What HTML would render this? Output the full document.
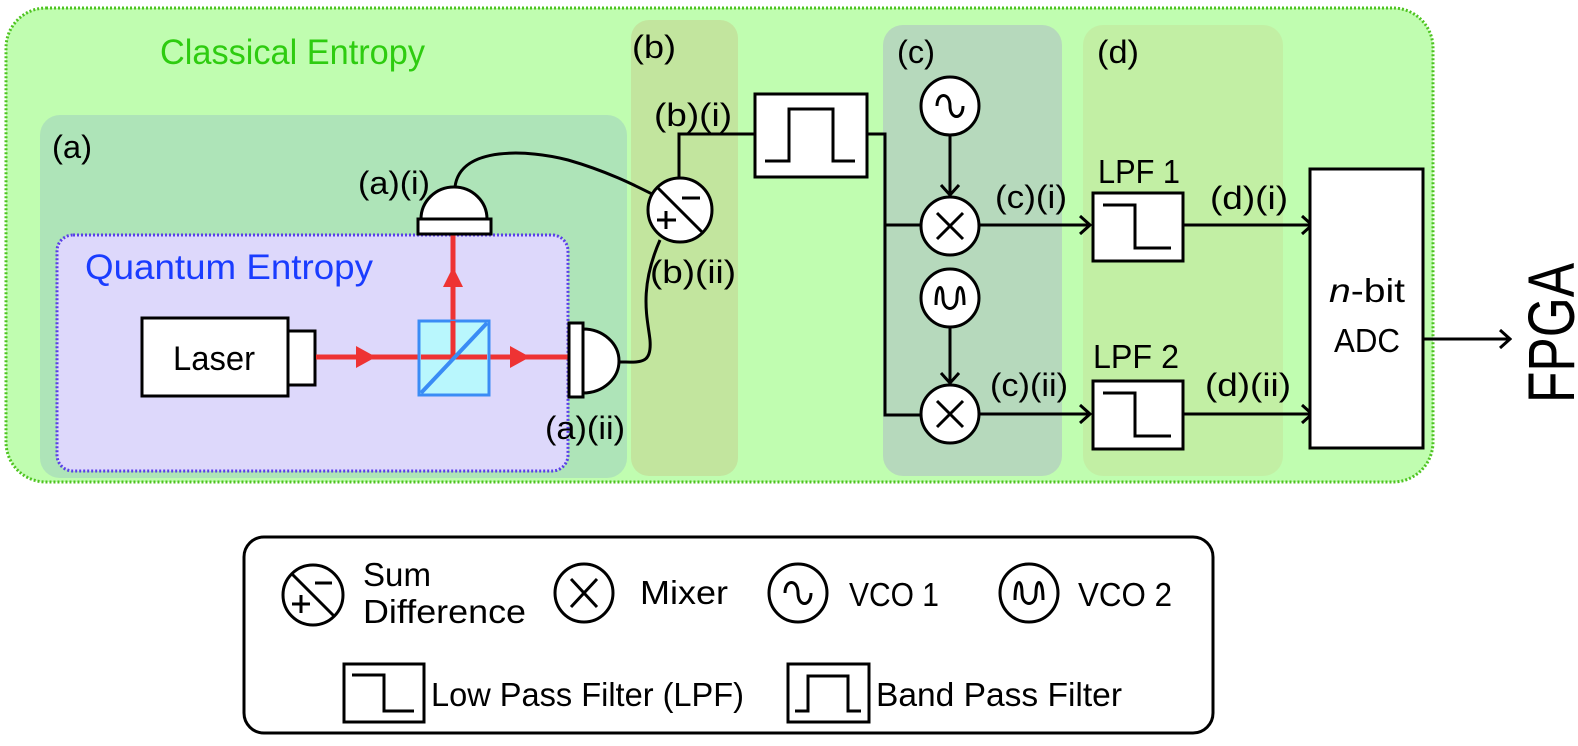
<!DOCTYPE html>
<html><head><meta charset="utf-8"><style>
html,body{margin:0;padding:0;background:#fff;}
svg{display:block;}
text{font-family:"Liberation Sans",sans-serif;}
</style></head><body>
<svg width="1578" height="746" viewBox="0 0 1578 746" xmlns="http://www.w3.org/2000/svg">
<defs>
<marker id="oa" markerWidth="14" markerHeight="20" refX="12" refY="10" orient="auto" markerUnits="userSpaceOnUse">
<path d="M2,1 L12,10 L2,19" fill="none" stroke="#000" stroke-width="3"/>
</marker>
</defs>
<rect x="6" y="8" width="1427" height="474" rx="40" fill="#c0fdb0" stroke="#4ec320" stroke-width="3" stroke-dasharray="2,2"/>
<text x="160" y="64" font-size="35" fill="#2ecc10" textLength="265" lengthAdjust="spacingAndGlyphs">Classical Entropy</text>
<rect x="40" y="115" width="587" height="363" rx="20" fill="#aee4b8"/>
<rect x="631" y="20" width="107" height="456" rx="18" fill="#c2e59e"/>
<rect x="883" y="25" width="179" height="451" rx="20" fill="#b6d9bc"/>
<rect x="1083" y="25" width="200" height="451" rx="20" fill="#c2efa4"/>
<text x="52" y="158" font-size="32" textLength="40" lengthAdjust="spacingAndGlyphs">(a)</text>
<text x="632" y="58" font-size="32" textLength="44" lengthAdjust="spacingAndGlyphs">(b)</text>
<text x="897" y="63" font-size="32" textLength="38" lengthAdjust="spacingAndGlyphs">(c)</text>
<text x="1097" y="63" font-size="32" textLength="42" lengthAdjust="spacingAndGlyphs">(d)</text>
<rect x="57" y="235" width="511" height="236" rx="16" fill="#ddd8fb" stroke="#5a3fe8" stroke-width="3" stroke-dasharray="2,2"/>
<text x="85" y="279" font-size="35" fill="#1a3cff" textLength="288" lengthAdjust="spacingAndGlyphs">Quantum Entropy</text>
<rect x="142" y="318" width="146" height="78" fill="#fff" stroke="#000" stroke-width="3"/>
<rect x="288" y="331" width="27" height="54" fill="#fff" stroke="#000" stroke-width="3"/>
<text x="214" y="370" font-size="34" text-anchor="middle" textLength="82" lengthAdjust="spacingAndGlyphs">Laser</text>
<line x1="316" y1="357" x2="568" y2="357" stroke="#ee3333" stroke-width="5"/>
<line x1="453" y1="357" x2="453" y2="234" stroke="#ee3333" stroke-width="5"/>
<polygon points="356,346 376,357 356,368" fill="#ee3333"/>
<polygon points="510,346 530,357 510,368" fill="#ee3333"/>
<polygon points="443,287 453,267 463,287" fill="#ee3333"/>
<rect x="419" y="321" width="70" height="74" fill="#b3fdfd" fill-opacity="0.85" stroke="#3a8cf5" stroke-width="3"/>
<line x1="453" y1="321" x2="453" y2="357" stroke="#ee3333" stroke-width="5"/>
<line x1="421" y1="357" x2="487" y2="357" stroke="#ee3333" stroke-width="5"/>
<line x1="421" y1="393" x2="487" y2="323" stroke="#3a8cf5" stroke-width="4"/>
<path d="M421,219 A33,32 0 0 1 487,219 Z" fill="#fff" stroke="#000" stroke-width="3"/>
<rect x="418" y="219" width="73" height="15" fill="#fff" stroke="#000" stroke-width="3"/>
<text x="358" y="194" font-size="32" textLength="72" lengthAdjust="spacingAndGlyphs">(a)(i)</text>
<path d="M583,329 A36,32 0 0 1 583,393 Z" fill="#fff" stroke="#000" stroke-width="3"/>
<rect x="569" y="323" width="14" height="74" fill="#fff" stroke="#000" stroke-width="3"/>
<text x="545" y="439" font-size="32" textLength="80" lengthAdjust="spacingAndGlyphs">(a)(ii)</text>
<path d="M455,187 C460,145 530,150 568,160 C610,172 640,188 654,195" fill="none" stroke="#000" stroke-width="3"/>
<path d="M620,362 C640,362 652,365 650,340 C648,320 638,290 660,240" fill="none" stroke="#000" stroke-width="3"/>
<circle cx="680" cy="210" r="32" fill="#fff" stroke="#000" stroke-width="3"/>
<line x1="657" y1="187" x2="703" y2="233" stroke="#000" stroke-width="3"/>
<line x1="682" y1="198" x2="700" y2="198" stroke="#000" stroke-width="3"/>
<line x1="657" y1="220" x2="676" y2="220" stroke="#000" stroke-width="3"/>
<line x1="666" y1="211" x2="666" y2="229" stroke="#000" stroke-width="3"/>
<text x="654" y="126" font-size="32" textLength="78" lengthAdjust="spacingAndGlyphs">(b)(i)</text>
<text x="650" y="283" font-size="32" textLength="86" lengthAdjust="spacingAndGlyphs">(b)(ii)</text>
<polyline points="679,178 679,134 755,134" fill="none" stroke="#000" stroke-width="3"/>
<rect x="755" y="94" width="112" height="83" fill="#fff" stroke="#000" stroke-width="3"/>
<polyline points="765,161 789,161 789,109 833,109 833,161 855,161" fill="none" stroke="#000" stroke-width="3"/>
<polyline points="867,134 885,134 885,415 921,415" fill="none" stroke="#000" stroke-width="3"/>
<line x1="885" y1="225" x2="921" y2="225" stroke="#000" stroke-width="3"/>
<circle cx="950" cy="106" r="29" fill="#fff" stroke="#000" stroke-width="3"/>
<path d="M937,106 C937,92 950,92 950,106 C950,120 963,120 963,106" fill="none" stroke="#000" stroke-width="3"/>
<line x1="950" y1="135" x2="950" y2="195" stroke="#000" stroke-width="3" marker-end="url(#oa)"/>
<circle cx="950" cy="226" r="29" fill="#fff" stroke="#000" stroke-width="3"/>
<line x1="937" y1="213" x2="963" y2="239" stroke="#000" stroke-width="3"/>
<line x1="963" y1="213" x2="937" y2="239" stroke="#000" stroke-width="3"/>
<circle cx="950" cy="298" r="29" fill="#fff" stroke="#000" stroke-width="3"/>
<path d="M936,305 C936,283 943,283 943,298 C943,312 957,312 957,298 C957,283 964,283 964,305" fill="none" stroke="#000" stroke-width="3"/>
<line x1="950" y1="327" x2="950" y2="383" stroke="#000" stroke-width="3" marker-end="url(#oa)"/>
<circle cx="950" cy="414" r="29" fill="#fff" stroke="#000" stroke-width="3"/>
<line x1="937" y1="401" x2="963" y2="427" stroke="#000" stroke-width="3"/>
<line x1="963" y1="401" x2="937" y2="427" stroke="#000" stroke-width="3"/>
<line x1="979" y1="225" x2="1090" y2="225" stroke="#000" stroke-width="3" marker-end="url(#oa)"/>
<line x1="979" y1="414" x2="1090" y2="414" stroke="#000" stroke-width="3" marker-end="url(#oa)"/>
<text x="995" y="208" font-size="32" textLength="72" lengthAdjust="spacingAndGlyphs">(c)(i)</text>
<text x="990" y="396" font-size="32" textLength="78" lengthAdjust="spacingAndGlyphs">(c)(ii)</text>
<text x="1098" y="183" font-size="33" textLength="82" lengthAdjust="spacingAndGlyphs">LPF 1</text>
<text x="1093" y="368" font-size="33" textLength="86" lengthAdjust="spacingAndGlyphs">LPF 2</text>
<rect x="1093" y="193" width="90" height="68" fill="#fff" stroke="#000" stroke-width="3"/>
<polyline points="1103,205 1135,205 1135,248 1171,248" fill="none" stroke="#000" stroke-width="3"/>
<rect x="1093" y="381" width="90" height="68" fill="#fff" stroke="#000" stroke-width="3"/>
<polyline points="1103,393 1135,393 1135,436 1171,436" fill="none" stroke="#000" stroke-width="3"/>
<line x1="1183" y1="225" x2="1312" y2="225" stroke="#000" stroke-width="3" marker-end="url(#oa)"/>
<line x1="1183" y1="414" x2="1312" y2="414" stroke="#000" stroke-width="3" marker-end="url(#oa)"/>
<text x="1210" y="209" font-size="32" textLength="78" lengthAdjust="spacingAndGlyphs">(d)(i)</text>
<text x="1205" y="396" font-size="32" textLength="86" lengthAdjust="spacingAndGlyphs">(d)(ii)</text>
<rect x="1310" y="169" width="113" height="279" fill="#fff" stroke="#000" stroke-width="3"/>
<text x="1367" y="302" font-size="33" text-anchor="middle" textLength="76" lengthAdjust="spacingAndGlyphs"><tspan font-style="italic">n</tspan>-bit</text>
<text x="1367" y="352" font-size="33" text-anchor="middle" textLength="66" lengthAdjust="spacingAndGlyphs">ADC</text>
<line x1="1423" y1="339" x2="1510" y2="339" stroke="#000" stroke-width="3" marker-end="url(#oa)"/>
<text x="0" y="0" font-size="66" transform="translate(1574,403) rotate(-90)" textLength="140" lengthAdjust="spacingAndGlyphs">FPGA</text>
<rect x="244" y="537" width="969" height="196" rx="20" fill="#fff" stroke="#000" stroke-width="3"/>
<circle cx="313" cy="595" r="30" fill="#fff" stroke="#000" stroke-width="3"/>
<line x1="292" y1="574" x2="334" y2="616" stroke="#000" stroke-width="3"/>
<line x1="315" y1="583" x2="332" y2="583" stroke="#000" stroke-width="3"/>
<line x1="292" y1="604" x2="310" y2="604" stroke="#000" stroke-width="3"/>
<line x1="301" y1="595" x2="301" y2="613" stroke="#000" stroke-width="3"/>
<text x="363" y="586" font-size="33" textLength="68" lengthAdjust="spacingAndGlyphs">Sum</text>
<text x="363" y="623" font-size="33" textLength="163" lengthAdjust="spacingAndGlyphs">Difference</text>
<circle cx="584" cy="593" r="29" fill="#fff" stroke="#000" stroke-width="3"/>
<line x1="571" y1="579" x2="597" y2="607" stroke="#000" stroke-width="3"/>
<line x1="597" y1="579" x2="571" y2="607" stroke="#000" stroke-width="3"/>
<text x="640" y="604" font-size="33" textLength="88" lengthAdjust="spacingAndGlyphs">Mixer</text>
<circle cx="798" cy="593" r="29" fill="#fff" stroke="#000" stroke-width="3"/>
<path d="M785,593 C785,579 798,579 798,593 C798,607 811,607 811,593" fill="none" stroke="#000" stroke-width="3"/>
<text x="849" y="606" font-size="33" textLength="90" lengthAdjust="spacingAndGlyphs">VCO 1</text>
<circle cx="1029" cy="593" r="29" fill="#fff" stroke="#000" stroke-width="3"/>
<path d="M1015,600 C1015,578 1022,578 1022,593 C1022,607 1036,607 1036,593 C1036,578 1043,578 1043,600" fill="none" stroke="#000" stroke-width="3"/>
<text x="1078" y="606" font-size="33" textLength="94" lengthAdjust="spacingAndGlyphs">VCO 2</text>
<rect x="344" y="664" width="80" height="58" fill="#fff" stroke="#000" stroke-width="3"/>
<polyline points="352,675 384,675 384,711 414,711" fill="none" stroke="#000" stroke-width="3"/>
<text x="431" y="706" font-size="33" textLength="313" lengthAdjust="spacingAndGlyphs">Low Pass Filter (LPF)</text>
<rect x="788" y="664" width="81" height="58" fill="#fff" stroke="#000" stroke-width="3"/>
<polyline points="795,711 808,711 808,676 848,676 848,711 861,711" fill="none" stroke="#000" stroke-width="3"/>
<text x="876" y="706" font-size="33" textLength="246" lengthAdjust="spacingAndGlyphs">Band Pass Filter</text>
</svg>
</body></html>
